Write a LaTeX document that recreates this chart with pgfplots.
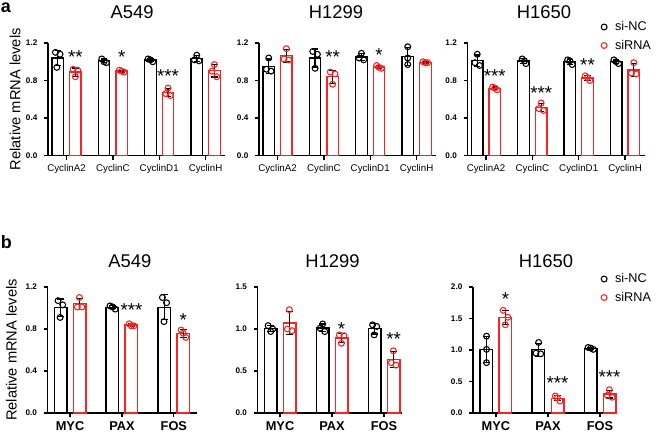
\documentclass[border=0pt]{standalone}
\usepackage{pgfplots}
\pgfplotsset{compat=1.18}
\usepackage{fontspec}
\setmainfont{Liberation Sans}
\definecolor{myred}{RGB}{250,35,35}
\tikzset{st/.style={anchor=base, yshift=-8pt, inner sep=0pt, font=\fontsize{14}{14}\selectfont}}
\pgfplotsset{
  panel/.style={
    scale only axis, clip=false,
    axis lines=left, axis line style={-, line width=0.95pt},
    tick style={black, line width=0.95pt}, major tick length=3pt, tick align=outside,
    ymin=0,
    yticklabel style={font=\bfseries\fontsize{6.1}{7}\selectfont, xshift=-1.5pt,
      /pgf/number format/.cd, fixed, fixed zerofill, precision=1, assume math mode=true},
    legend style={draw=none, fill=none, inner sep=0pt, row sep=1.5pt,
      font=\fontsize{9.5}{10}\selectfont, legend cell align=left},
    legend image code/.code={\path (0.33cm,0cm); \draw[##1] plot coordinates {(0.12cm,0cm)};},
  },
  toppanel/.style={panel, width=132.75pt, height=84.375pt, xmin=-0.4, xmax=3.42,
    ymax=1.2, ytick={0,0.4,0.8,1.2}, xtick={0,1,2,3},
    xticklabels={CyclinA2,CyclinC,CyclinD1,CyclinH},
    xticklabel style={font=\fontsize{7.3}{8}\selectfont, inner sep=1pt, yshift=-2.8pt},
    title style={anchor=base, yshift=12.2pt, font=\fontsize{13.8}{15}\selectfont}},
  botpanel/.style={panel, height=94.5pt, xtick={0,1,2},
    xticklabels={MYC,PAX,FOS},
    xticklabel style={font=\bfseries\fontsize{9.6}{10}\selectfont, inner sep=1pt, yshift=-2.1pt},
    title style={anchor=base, yshift=9pt, font=\fontsize{13.8}{15}\selectfont}},
  errb/.style={error bars/.cd, y dir=both, y explicit,
    error bar style={black, line width=0.95pt},
    error mark options={rotate=90, mark size=2.4pt, black, line width=0.95pt}},
  bk/.style={ybar, bar shift=0pt, bar width=#1, fill=white, draw=black, line width=0.95pt, forget plot, errb},
  rd/.style={ybar, bar shift=0pt, bar width=#1, fill=white, draw=myred, line width=0.95pt, forget plot, errb},
  pk/.style={only marks, mark=o, mark size=2.2pt, black, mark options={line width=0.8pt}},
  pr/.style={only marks, mark=o, mark size=2.2pt, myred, mark options={line width=0.8pt}},
  ylab/.style={ylabel={Relative mRNA levels}, ylabel style={font=\fontsize{11}{12}\selectfont, anchor=center}},
}
\begin{document}
\begin{tikzpicture}
\useasboundingbox (0,0) rectangle (493.5pt,-324pt);
\node[anchor=base west, inner sep=0pt, font=\bfseries\fontsize{13.5}{14}\selectfont] at (0.5pt,-9.6pt) {a};
\node[anchor=base west, inner sep=0pt, font=\bfseries\fontsize{13.5}{14}\selectfont] at (0.5pt,-186.2pt) {b};

% ---------- top A549 ----------
\begin{axis}[toppanel, ylab, at={(36pt,-116.625pt)}, anchor=south west,
  title={A549}, title style={at={(axis description cs:0.475,1)}},
  ylabel style={at={(axis description cs:-0.186,0.5)}}]
\addplot[bk=0.25] table[row sep=\\, y error=e]{x y e\\ -0.19 1.04 0.08\\ 0.81 1.01 0.02\\ 1.81 1.02 0.015\\ 2.81 1.033 0.03\\};
\addplot[rd=0.25] table[row sep=\\, y error=e]{x y e\\ 0.19 0.89 0.044\\ 1.19 0.90 0.01\\ 2.19 0.673 0.042\\ 3.19 0.903 0.065\\};
\addplot[pk, forget plot] table[row sep=\\]{x y\\ -0.24 1.10\\ -0.14 1.08\\ -0.21 0.94\\ 0.76 1.03\\ 0.81 1.00\\ 0.86 0.99\\ 1.76 1.03\\ 1.81 1.02\\ 1.86 1.00\\ 2.81 1.07\\ 2.76 1.02\\ 2.86 1.01\\};
\addplot[pr, forget plot] table[row sep=\\]{x y\\ 0.14 0.92\\ 0.24 0.91\\ 0.19 0.84\\ 1.14 0.91\\ 1.19 0.90\\ 1.24 0.89\\ 2.19 0.72\\ 2.14 0.66\\ 2.24 0.64\\ 3.19 0.97\\ 3.14 0.90\\ 3.24 0.84\\};
\node[st] at (axis cs:0.19,1.10) {**};
\node[st] at (axis cs:1.19,1.10) {*};
\node[st] at (axis cs:2.19,0.895) {***};
\end{axis}

% ---------- top H1299 ----------
\begin{axis}[toppanel, at={(194.25pt,-116.625pt)}, anchor=south west,
  title={H1299}, title style={at={(axis description cs:0.435,1)}}]
\addplot[bk=0.25] table[row sep=\\, y error=e]{x y e\\ -0.19 0.953 0.076\\ 0.81 1.04 0.096\\ 1.81 1.05 0.036\\ 2.81 1.057 0.096\\};
\addplot[rd=0.25] table[row sep=\\, y error=e]{x y e\\ 0.19 1.063 0.067\\ 1.19 0.84 0.07\\ 2.19 0.943 0.015\\ 3.19 0.993 0.006\\};
\addplot[pk, forget plot] table[row sep=\\]{x y\\ -0.19 1.04\\ -0.24 0.92\\ -0.14 0.90\\ 0.76 1.11\\ 0.86 1.08\\ 0.81 0.93\\ 1.81 1.09\\ 1.76 1.04\\ 1.86 1.02\\ 2.81 1.16\\ 2.81 1.04\\ 2.81 0.97\\};
\addplot[pr, forget plot] table[row sep=\\]{x y\\ 0.19 1.14\\ 0.14 1.03\\ 0.24 1.02\\ 1.14 0.89\\ 1.24 0.87\\ 1.19 0.76\\ 2.14 0.96\\ 2.19 0.94\\ 2.24 0.93\\ 3.14 1.00\\ 3.19 0.99\\ 3.24 0.99\\};
\node[st] at (axis cs:1.19,1.09) {**};
\node[st] at (axis cs:2.19,1.12) {*};
\end{axis}

% ---------- top H1650 ----------
\begin{axis}[toppanel, at={(350.625pt,-116.625pt)}, anchor=south west,
  title={H1650}, title style={at={(axis description cs:0.432,1)}},
  legend style={at={(axis description cs:0.754,1.218)}, anchor=north west}]
\addplot[bk=0.25] table[row sep=\\, y error=e]{x y e\\ -0.19 1.01 0.062\\ 0.81 1.007 0.025\\ 1.81 1.0 0.026\\ 2.81 1.0 0.02\\};
\addplot[rd=0.25] table[row sep=\\, y error=e]{x y e\\ 0.19 0.717 0.015\\ 1.19 0.513 0.042\\ 2.19 0.827 0.025\\ 3.19 0.913 0.067\\};
\addplot[pk] table[row sep=\\]{x y\\ -0.19 1.08\\ -0.24 0.99\\ -0.14 0.96\\ 0.78 1.03\\ 0.83 1.01\\ 0.86 0.98\\ 1.76 1.02\\ 1.81 1.01\\ 1.86 0.97\\ 2.76 1.02\\ 2.81 1.00\\ 2.86 0.98\\};
\addlegendentry{si-NC}
\addplot[pr] table[row sep=\\]{x y\\ 0.14 0.73\\ 0.19 0.72\\ 0.24 0.70\\ 1.19 0.56\\ 1.14 0.50\\ 1.24 0.48\\ 2.14 0.85\\ 2.19 0.83\\ 2.24 0.80\\ 3.19 0.99\\ 3.14 0.88\\ 3.24 0.87\\};
\addlegendentry{siRNA}
\node[st] at (axis cs:0.19,0.895) {***};
\node[st] at (axis cs:1.19,0.716) {***};
\node[st] at (axis cs:2.19,1.01) {**};
\end{axis}

% ---------- bottom A549 ----------
\begin{axis}[botpanel, ylab, at={(35.775pt,-309.75pt)}, anchor=south west,
  width=111.75pt, xmin=-0.43, xmax=2.44, ymax=1.2, ytick={0,0.4,0.8,1.2},
  title={A549}, title style={at={(axis description cs:0.552,1)}},
  ylabel style={at={(axis description cs:-0.243,0.5)}}]
\addplot[bk=0.245] table[row sep=\\, y error=e]{x y e\\ -0.183 1.003 0.083\\ 0.817 1.007 0.015\\ 1.817 1.007 0.12\\};
\addplot[rd=0.245] table[row sep=\\, y error=e]{x y e\\ 0.183 1.04 0.052\\ 1.183 0.837 0.012\\ 2.183 0.757 0.035\\};
\addplot[pk, forget plot] table[row sep=\\]{x y\\ -0.23 1.07\\ -0.14 1.03\\ -0.19 0.91\\ 0.77 1.02\\ 0.82 1.01\\ 0.87 0.99\\ 1.78 1.10\\ 1.86 1.05\\ 1.81 0.87\\};
\addplot[pr, forget plot] table[row sep=\\]{x y\\ 0.18 1.10\\ 0.14 1.01\\ 0.23 1.01\\ 1.14 0.85\\ 1.18 0.83\\ 1.23 0.83\\ 2.14 0.79\\ 2.18 0.76\\ 2.23 0.72\\};
\node[st] at (axis cs:1.183,1.02) {***};
\node[st] at (axis cs:2.183,0.93) {*};
\end{axis}

% ---------- bottom H1299 ----------
\begin{axis}[botpanel, at={(193.275pt,-309.75pt)}, anchor=south west,
  width=108pt, xmin=-0.43, xmax=2.34, ymax=1.5, ytick={0,0.5,1.0,1.5},
  title={H1299}, title style={at={(axis description cs:0.52,1)}}]
\addplot[bk=0.245] table[row sep=\\, y error=e]{x y e\\ -0.183 1.003 0.035\\ 0.817 1.013 0.045\\ 1.817 1.003 0.064\\};
\addplot[rd=0.245] table[row sep=\\, y error=e]{x y e\\ 0.183 1.07 0.139\\ 1.183 0.893 0.055\\ 2.183 0.637 0.091\\};
\addplot[pk, forget plot] table[row sep=\\]{x y\\ -0.23 1.04\\ -0.14 1.00\\ -0.18 0.97\\ 0.82 1.06\\ 0.77 1.01\\ 0.86 0.97\\ 1.78 1.05\\ 1.86 1.03\\ 1.81 0.93\\};
\addplot[pr, forget plot] table[row sep=\\]{x y\\ 0.18 1.23\\ 0.14 1.00\\ 0.23 0.98\\ 1.14 0.93\\ 1.23 0.92\\ 1.18 0.83\\ 2.18 0.74\\ 2.14 0.60\\ 2.23 0.57\\};
\node[st] at (axis cs:1.183,1.05) {*};
\node[st] at (axis cs:2.183,0.93) {**};
\end{axis}

% ---------- bottom H1650 ----------
\begin{axis}[botpanel, at={(354.75pt,-309.75pt)}, anchor=south west,
  width=108.2pt, xmin=-0.44, xmax=2.33, ymax=2.0, ytick={0,0.5,1.0,1.5,2.0},
  title={H1650}, title style={at={(axis description cs:0.506,1)}},
  legend style={at={(axis description cs:0.887,1.131)}, anchor=north west}]
\addplot[bk=0.245] table[row sep=\\, y error=e]{x y e\\ -0.183 1.01 0.21\\ 0.817 1.003 0.101\\ 1.817 1.027 0.015\\};
\addplot[rd=0.245] table[row sep=\\, y error=e]{x y e\\ 0.183 1.517 0.115\\ 1.183 0.233 0.04\\ 2.183 0.30 0.062\\};
\addplot[pk] table[row sep=\\]{x y\\ -0.18 1.22\\ -0.18 1.01\\ -0.18 0.80\\ 0.82 1.12\\ 0.77 0.95\\ 0.86 0.94\\ 1.77 1.04\\ 1.82 1.03\\ 1.87 1.01\\};
\addlegendentry{si-NC}
\addplot[pr] table[row sep=\\]{x y\\ 0.14 1.63\\ 0.23 1.52\\ 0.18 1.40\\ 1.14 0.27\\ 1.18 0.24\\ 1.23 0.19\\ 2.18 0.37\\ 2.14 0.28\\ 2.23 0.25\\};
\addlegendentry{siRNA}
\node[st] at (axis cs:0.183,1.87) {*};
\node[st] at (axis cs:1.183,0.55) {***};
\node[st] at (axis cs:2.183,0.64) {***};
\end{axis}
\end{tikzpicture}
\end{document}
